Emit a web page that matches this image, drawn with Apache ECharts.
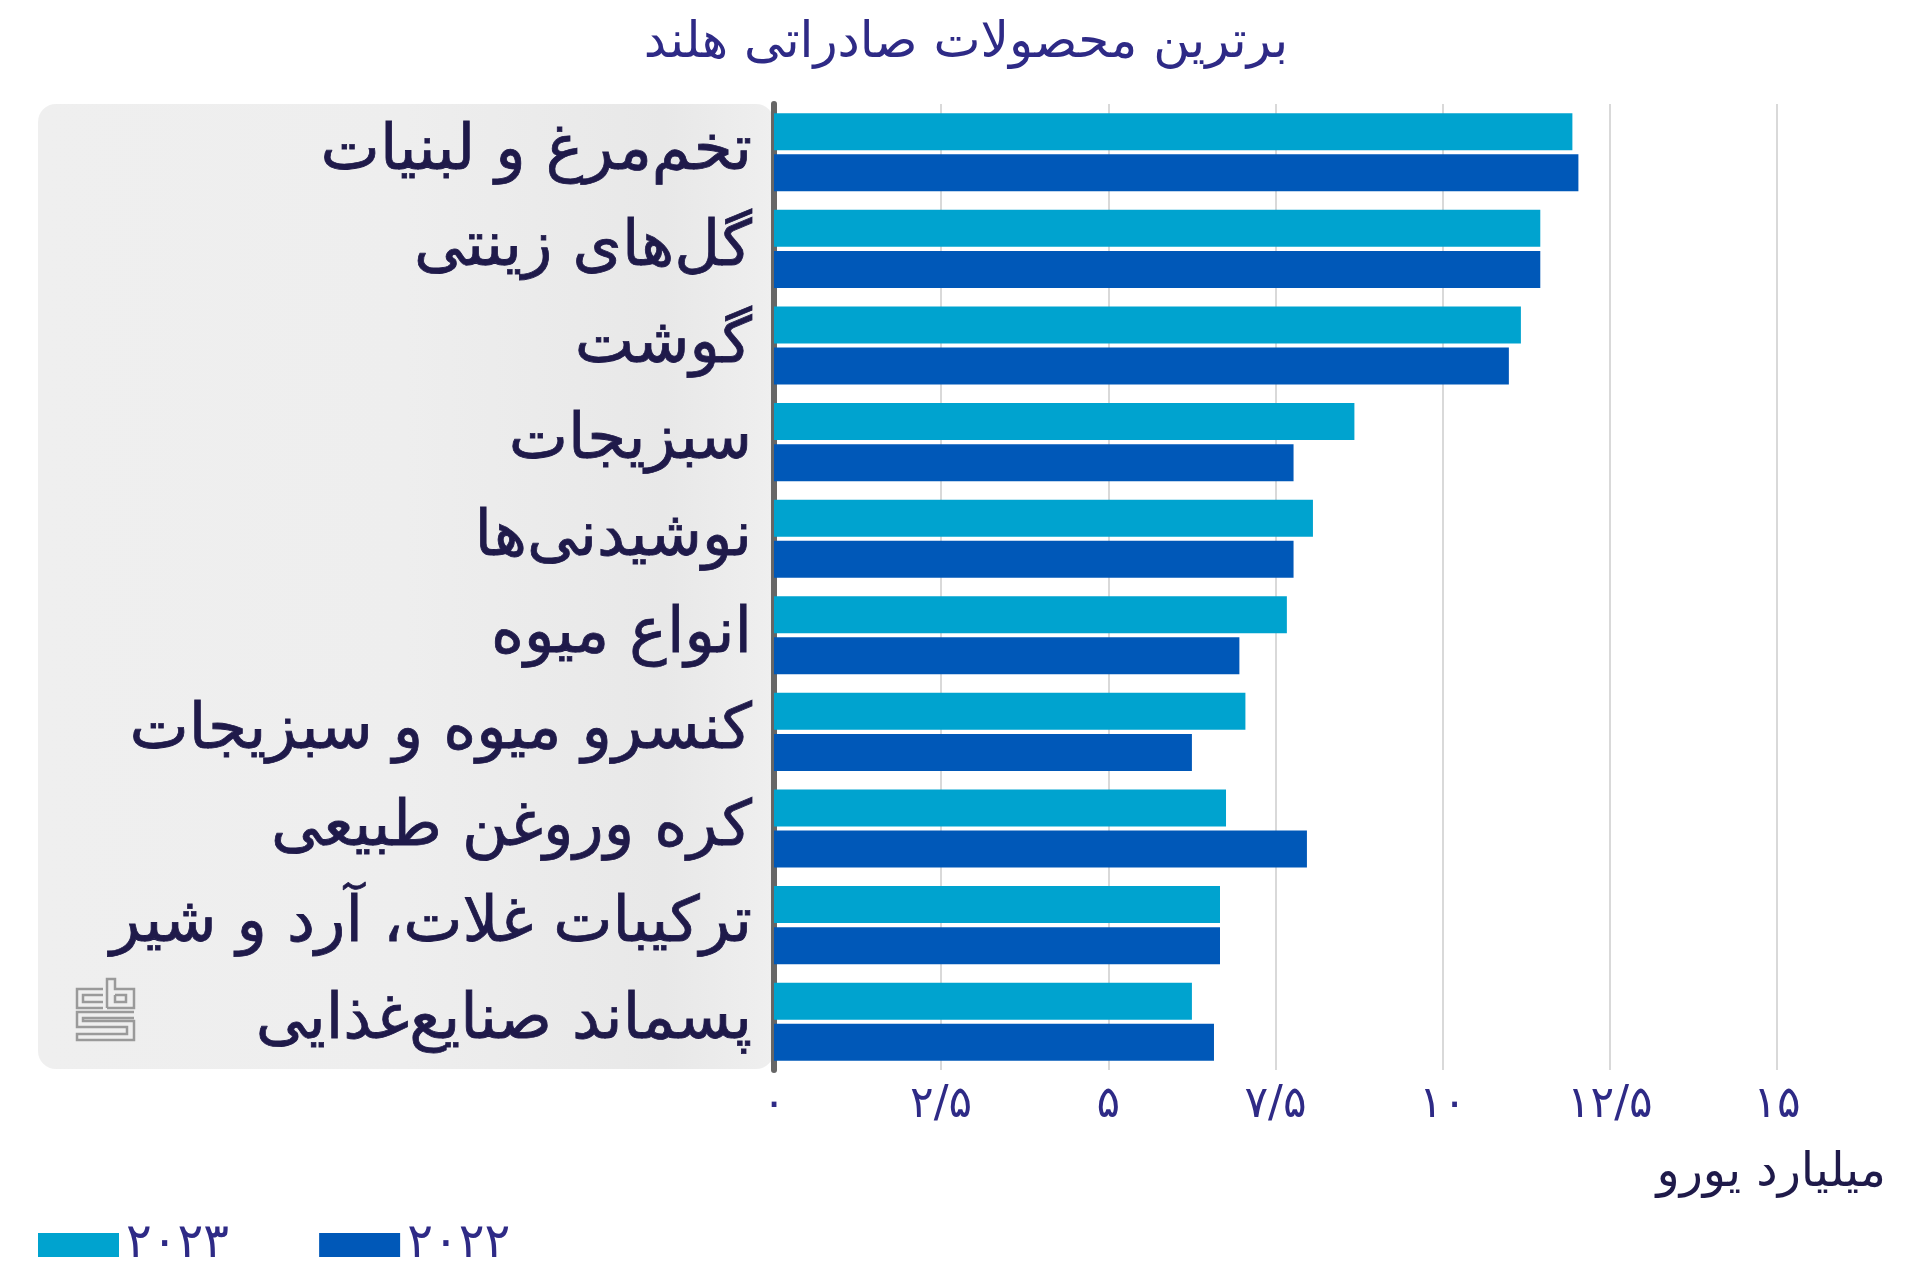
<!DOCTYPE html>
<html lang="fa">
<head>
<meta charset="utf-8">
<style>html,body{margin:0;padding:0;background:#fff}#c{width:1920px;height:1280px}</style>
<script src="https://cdn.jsdelivr.net/npm/echarts@6/dist/echarts.min.js"></script>
</head>
<body>
<div id="c"></div>
<script>
const titleText = 'برترین محصولات صادراتی هلند';
const unitText = 'میلیارد یورو';
const categories = ['تخم‌مرغ و لبنیات','گل‌های زینتی','گوشت','سبزیجات','نوشیدنی‌ها','انواع میوه','کنسرو میوه و سبزیجات','کره وروغن طبیعی','ترکیبات غلات، آرد و شیر','پسماند صنایع‌غذایی'];
const seriesNames = ['۲۰۲۳','۲۰۲۲'];
const values2023 = [11.94,11.46,11.17,8.68,8.06,7.67,7.05,6.76,6.67,6.25];
const values2022 = [12.03,11.46,10.99,7.77,7.77,6.96,6.25,7.97,6.67,6.58];
const tickLabels = {0:'۰',2.5:'۲/۵',5:'۵',7.5:'۷/۵',10:'۱۰',12.5:'۱۲/۵',15:'۱۵'};
const FONT = '"DejaVu Sans"';
const logoLines = [
 [[103,989],[77,989],[77,1008],[103,1008]],
 [[103,995],[83,995],[83,1002],[103,1002]],
 [[107,1008],[107,979],[115,979],[115,989],[134,989],[134,1008],[107,1008]],
 [[115,995],[126,995],[126,1002],[115,1002],[115,995]],
 [[134,1012],[77,1012],[77,1027],[127,1027],[127,1034],[77,1034],[77,1040],[134,1040],[134,1021],[83,1021],[83,1018],[134,1018]]
];
const chart = echarts.init(document.getElementById('c'), null, {renderer:'canvas'});
chart.setOption({
  animation:false,
  backgroundColor:'#ffffff',
  title:{text:titleText,left:961,top:14,textAlign:'center',textStyle:{fontFamily:FONT,fontSize:50,fontWeight:'normal',color:'#2e2a86'}},
  legend:{left:38,top:1221,padding:0,itemWidth:81,itemHeight:24,itemGap:90,icon:'rect',
    textStyle:{fontFamily:FONT,fontSize:48,color:'#2e2a86',padding:[0,0,0,2]},data:seriesNames},
  grid:{left:774,top:104,width:1003,height:966},
  xAxis:{type:'value',min:0,max:15,interval:2.5,
    name:unitText,nameLocation:'end',nameGap:109,
    nameTextStyle:{fontFamily:FONT,fontSize:48,color:'#1f1a4a',align:'right',verticalAlign:'top',padding:[80,0,0,0]},
    axisLine:{show:false},axisTick:{show:false},
    splitLine:{show:true,lineStyle:{color:'#cccccc',width:1.5}},
    axisLabel:{margin:14,fontFamily:FONT,fontSize:44,color:'#2e2a86',formatter:v=>tickLabels[v]}},
  yAxis:{type:'category',inverse:true,data:categories,
    axisLine:{show:true,lineStyle:{color:'#666666',width:6}},axisTick:{show:false},
    axisLabel:{margin:22,fontFamily:FONT,fontSize:63,color:'#1f1a4a',padding:[0,0,12,0],textBorderColor:'#1f1a4a',textBorderWidth:0.8}},
  series:[
    {name:seriesNames[0],type:'bar',data:values2023,barWidth:37,barGap:'11%',itemStyle:{color:'#00a3cf'}},
    {name:seriesNames[1],type:'bar',data:values2022,barWidth:37,barGap:'11%',itemStyle:{color:'#0058b8'}}
  ],
  graphic:[
    {type:'rect',z:-1,shape:{x:38,y:104,width:736,height:965,r:18},
     style:{fill:new echarts.graphic.LinearGradient(0,0,1,0,[{offset:0,color:'#efefef'},{offset:.5,color:'#eeeeee'},{offset:.85,color:'#e8e8e8'},{offset:1,color:'#efefef'}])}}
  ].concat(logoLines.map(p=>({type:'polyline',z:1,shape:{points:p},style:{stroke:'#9a9a9a',lineWidth:2.5,fill:null}})))
});
</script>
</body>
</html>
